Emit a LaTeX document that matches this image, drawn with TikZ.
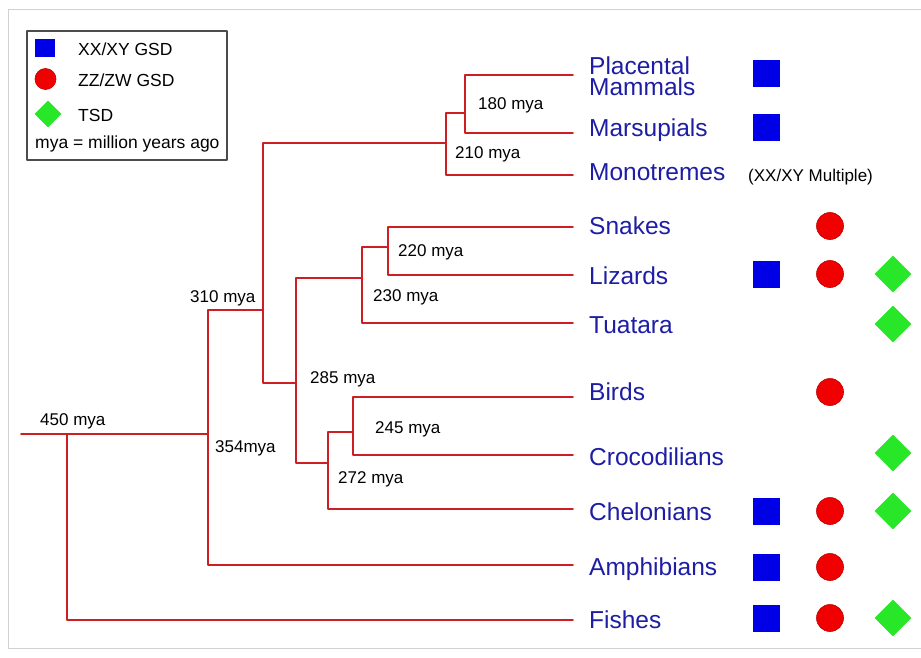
\documentclass[tikz,border=0pt]{standalone}
\usepackage{fontspec}
\setmainfont{Liberation Sans}
\usetikzlibrary{shapes.geometric}

\definecolor{branchred}{RGB}{205,30,35}
\definecolor{taxonblue}{RGB}{30,30,165}
\definecolor{xyblue}{RGB}{0,0,230}
\definecolor{zwred}{RGB}{240,0,0}
\definecolor{tsdgreen}{RGB}{40,230,40}

\tikzset{
  branch/.style={draw=branchred,line width=1.8pt},
  taxon/.style={anchor=base west,inner sep=0pt,text=taxonblue,font=\fontsize{24.5}{21.5}\selectfont},
  date/.style={anchor=base west,inner sep=0pt,font=\fontsize{17}{20}\selectfont},
  keytext/.style={anchor=base west,inner sep=0pt,font=\fontsize{17.5}{20}\selectfont},
  xysq/.style={rectangle,fill=xyblue,inner sep=0pt,minimum size=27pt},
  zwci/.style={circle,fill=zwred,draw=red!75!black,line width=0.6pt,inner sep=0pt,minimum size=27pt},
  tsddi/.style={diamond,fill=tsdgreen,inner sep=0pt,minimum size=37pt}
}

\begin{document}
\begin{tikzpicture}[line cap=round,line join=round,x=1pt,y=-1pt]
\useasboundingbox (0,0) rectangle (921,658);
\fill[white] (0,0) rectangle (921,658);
\draw[black!18,line width=1pt] (921,10) -- (8,10) -- (8,648) -- (921,648);

% tips
\coordinate (tPla) at (573,75);
\coordinate (tMar) at (573,133);
\coordinate (tMon) at (573,175);
\coordinate (tSna) at (573,227);
\coordinate (tLiz) at (573,275);
\coordinate (tTua) at (573,323);
\coordinate (tBir) at (573,397);
\coordinate (tCro) at (573,455);
\coordinate (tChe) at (573,509);
\coordinate (tAmp) at (573,565);
\coordinate (tFis) at (573,620);

% splits
\coordinate (n180) at (465,113);
\coordinate (n210) at (446,143);
\coordinate (n220) at (388,247);
\coordinate (n230) at (362,278);
\coordinate (n245) at (353,432);
\coordinate (n272) at (328,463);
\coordinate (n285) at (296,383);
\coordinate (n310) at (263,310);
\coordinate (n354) at (208,434);
\coordinate (n450) at (67,434);
\coordinate (root) at (21,434);

\draw[branch] (n180) |- (tPla);
\draw[branch] (n180) |- (tMar);
\draw[branch] (n210) |- (n180);
\draw[branch] (n210) |- (tMon);
\draw[branch] (n220) |- (tSna);
\draw[branch] (n220) |- (tLiz);
\draw[branch] (n230) |- (n220);
\draw[branch] (n230) |- (tTua);
\draw[branch] (n245) |- (tBir);
\draw[branch] (n245) |- (tCro);
\draw[branch] (n272) |- (n245);
\draw[branch] (n272) |- (tChe);
\draw[branch] (n285) |- (n230);
\draw[branch] (n285) |- (n272);
\draw[branch] (n310) |- (n210);
\draw[branch] (n310) |- (n285);
\draw[branch] (n354) |- (n310);
\draw[branch] (n354) |- (tAmp);
\draw[branch] (n450) -- (n354);
\draw[branch] (n450) |- (tFis);
\draw[branch] (root) -- (n450);

% dates
\node[date] (d180) at (478,110) {180 mya};
\node[date] (d210) at (455,158) {210 mya};
\node[date] (d220) at (398,256) {220 mya};
\node[date] (d230) at (373,301) {230 mya};
\node[date] (d285) at (310,383) {285 mya};
\node[date] (d310) at (190,302) {310 mya};
\node[date] (d245) at (375,433) {245 mya};
\node[date] (d272) at (338,483) {272 mya};
\node[date] (d354) at (215,452) {354mya};
\node[date] (d450) at (40,425) {450 mya};

% taxa
\node[taxon,anchor=north west,align=left] (lPla) at (589,56.5) {Placental\\Mammals};
\node[taxon] (lMar) at (589,137) {Marsupials};
\node[taxon] (lMon) at (589,180) {Monotremes};
\node[taxon] (lSna) at (589,234) {Snakes};
\node[taxon] (lLiz) at (589,284) {Lizards};
\node[taxon] (lTua) at (589,333) {Tuatara};
\node[taxon] (lBir) at (589,400) {Birds};
\node[taxon] (lCro) at (589,465) {Crocodilians};
\node[taxon] (lChe) at (589,520) {Chelonians};
\node[taxon] (lAmp) at (589,575) {Amphibians};
\node[taxon] (lFis) at (589,628) {Fishes};
\node[date] (lMul) at (748,181) {(XX/XY Multiple)};

% sex determination
\foreach \n/\y in {Pla/74,Mar/128,Liz/274,Che/511,Amp/567,Fis/618}
  \node[xysq] (sq\n) at (766,\y) {};
\foreach \n/\y in {Sna/226,Liz/274,Bir/392,Che/511,Amp/567,Fis/618}
  \node[zwci] (ci\n) at (830,\y) {};
\foreach \n/\y in {Liz/274,Tua/324,Cro/453,Che/511,Fis/618}
  \node[tsddi] (di\n) at (893,\y) {};

% legend
\draw[black!70,line width=1.2pt] (27,31) rectangle (227,160);
\node[xysq,minimum width=20pt,minimum height=18pt] (kSq) at (45,48) {};
\node[zwci,minimum size=21pt] (kCi) at (45.5,79) {};
\node[tsddi,minimum size=27pt] (kDi) at (48,114) {};
\node[keytext] (kXY) at (78,56) {XX/XY GSD};
\node[keytext] (kZW) at (78,87) {ZZ/ZW GSD};
\node[keytext] (kTS) at (78,122) {TSD};
\node[keytext] (kMya) at (35,149) {mya = million years ago};
\end{tikzpicture}
\end{document}
